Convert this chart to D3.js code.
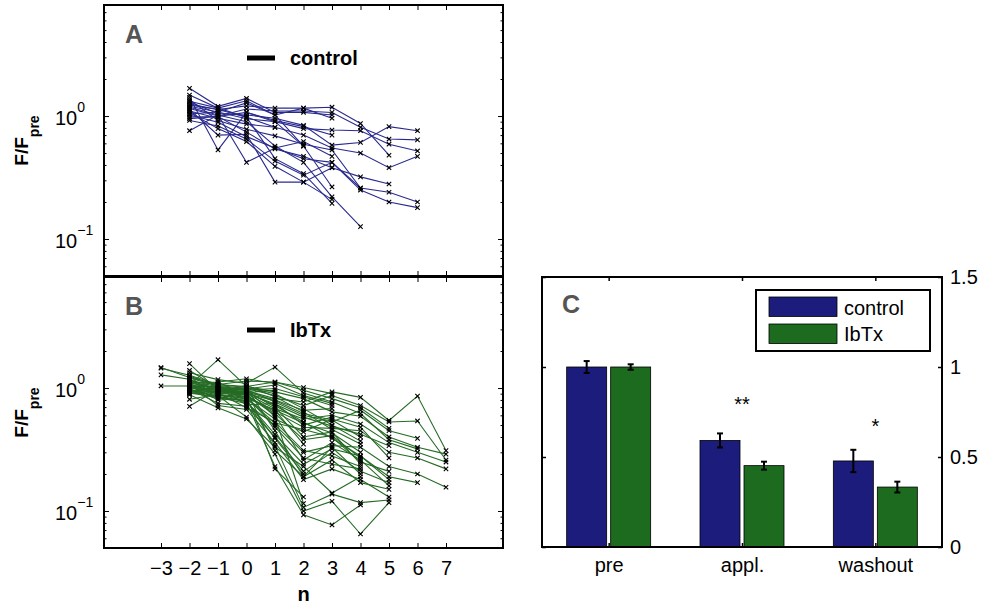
<!DOCTYPE html>
<html><head><meta charset="utf-8">
<script src="https://cdn.jsdelivr.net/npm/d3@7"></script>
<style>
body{margin:0;background:#fff}
svg{display:block}
text{font-family:"Liberation Sans",Arial,Helvetica,sans-serif}
</style>
</head><body>
<svg id="chart" width="984" height="607"></svg>
<script>
// ---------------- DATA ----------------
const nValues = [-3, -2, -1, 0, 1, 2, 3, 4, 5, 6, 7];

// F/Fpre traces (index aligned with nValues; null = no sample)
const controlTraces = [
  [null,1.30,1.05,1.02,0.96,0.84,0.58,0.61,0.82,0.76],
  [null,1.15,1.00,1.14,1.10,1.10,1.07,0.81,0.65,0.64],
  [null,1.20,1.08,0.95,0.90,0.79,0.77,0.76,0.59,0.52],
  [null,1.10,0.96,0.86,0.81,0.70,0.55,0.50,0.38,0.47],
  [null,1.36,0.92,0.78,0.69,0.59,0.53,0.26,0.24,0.20],
  [null,1.02,0.89,0.68,0.55,0.45,0.42,0.25,0.20,0.18],
  [null,1.25,1.13,1.21,1.16,1.16,1.18,0.87,0.48],
  [null,0.98,0.99,0.74,0.54,0.47,0.38,0.32,0.28],
  [null,1.18,1.02,0.90,0.57,0.42,0.22,0.126],
  [null,0.92,0.83,0.65,0.43,0.33,0.42,0.26],
  [null,1.68,1.20,1.39,1.07,1.07,1.02],
  [null,1.48,1.16,1.33,1.02,1.16,0.96],
  [null,1.42,0.53,1.07,0.92,0.82,0.70],
  [null,0.76,1.02,0.42,0.55,0.62,0.47],
  [null,1.07,0.79,0.62,0.39,0.29,0.21],
  [null,1.13,0.70,0.71,0.29,0.29,0.38],
  [null,1.04,1.08,1.28,1.02,0.57,0.265],
  [null,1.23,1.13,0.98,0.45,0.34,0.195],
  [null,0.95,0.99,1.07,0.90,0.57],
  [null,1.32,1.16,0.98,0.81]
];

const ibtxTraces = [
  [null,1.05,1.02,0.95,0.82,0.77,0.93,0.84,0.545,0.86,0.31],
  [null,1.11,0.97,0.99,0.87,0.72,0.87,0.72,0.53,0.54,0.26],
  [1.47,1.22,1.07,1.03,0.93,0.82,0.64,0.59,0.40,0.33,0.29],
  [null,0.96,0.93,0.90,0.68,0.56,0.60,0.51,0.36,0.30,0.25],
  [null,1.01,1.12,0.86,0.64,0.48,0.47,0.45,0.30,0.27,0.22],
  [null,0.91,0.84,0.75,0.50,0.30,0.34,0.33,0.23,0.20,0.156],
  [null,1.16,1.02,0.97,0.77,0.60,0.53,0.66,0.45,0.39],
  [null,1.33,1.17,1.09,1.48,0.91,0.77,0.62,0.38,0.32],
  [null,0.81,0.89,0.78,0.42,0.24,0.32,0.28,0.19,0.17],
  [1.45,1.27,1.07,1.14,1.12,0.96,0.82,0.69,0.47],
  [null,1.05,0.80,0.82,0.56,0.44,0.56,0.48,0.27],
  [null,1.39,1.00,0.92,0.72,0.53,0.39,0.28,0.18],
  [null,0.99,0.75,0.71,0.40,0.21,0.30,0.21,0.17],
  [null,1.58,0.95,0.88,0.60,0.26,0.36,0.26,0.16],
  [null,1.08,0.72,0.67,0.36,0.18,0.22,0.18,0.13],
  [null,0.93,1.02,0.80,0.34,0.107,0.137,0.117,0.123],
  [null,1.03,0.87,0.58,0.29,0.10,0.12,0.065,0.117],
  [null,1.13,1.07,1.01,0.90,0.68,0.50,0.37],
  [1.28,1.18,0.93,1.05,0.85,0.64,0.46,0.35],
  [null,0.71,0.98,0.88,0.62,0.38,0.41,0.27],
  [null,1.09,0.90,0.94,0.70,0.40,0.44,0.24],
  [null,1.00,0.91,0.69,0.53,0.31,0.28,0.23],
  [null,1.14,0.99,1.00,0.45,0.19,0.33,0.20],
  [null,0.88,0.69,0.56,0.33,0.23,0.14,0.19],
  [null,0.97,0.86,0.77,0.23,0.093,0.077,0.112],
  [null,1.05,1.70,1.03,1.12,1.01,0.90],
  [null,1.11,1.12,1.19,1.09,0.87,0.75],
  [null,1.02,0.97,0.96,0.99,0.85,0.72],
  [null,0.95,0.82,0.93,0.80,0.66,0.68],
  [1.04,1.04,1.01,0.73,0.75,0.50,0.58],
  [null,1.07,0.89,0.84,0.66,0.35],
  [null,0.98,0.84,0.79,0.39,0.20],
  [null,0.92,0.94,0.87,0.22,0.13],
  [null,1.20,1.05,0.99,0.58,0.115],
  [null,1.00,0.96,0.92,0.96],
  [null,1.06,0.93,0.98,1.06],
  [null,1.10,1.00,0.91,0.74,0.58,0.49,0.42,0.34],
  [null,0.94,1.03,0.83,0.66,0.52,0.43,0.30],
  [null,1.16,0.88,0.82,0.52,0.46,0.40,0.25,0.21],
  [null,1.01,0.98,0.90,0.79,0.62,0.55,0.40],
  [null,1.25,1.04,0.96,0.31,0.19,0.26,0.17,0.15],
  [null,0.90,0.92,0.85,0.48,0.27,0.24,0.22]
];

const logMajorTicks = [0.1, 1];
const logTickExponents = ["\u22121", "0"];
const logMinorTicks = [0.06,0.07,0.08,0.09,0.2,0.3,0.4,0.5,0.6,0.7,0.8,0.9,2,3,4,5,6,7,8];

// Panel C
const categories = ["pre", "appl.", "washout"];
const seriesNames = ["control", "IbTx"];
const controlMeans = [1.0, 0.592, 0.478];
const controlErrors = [0.033, 0.039, 0.062];
const ibtxMeans = [1.0, 0.452, 0.333];
const ibtxErrors = [0.015, 0.022, 0.030];
const barTicks = [0, 0.5, 1, 1.5];
const sigLabels = ["", "**", "*"];
const sigLevels = [null, 0.82, 0.70];

// ---------------- STYLE ----------------
const blueLine = "#2a2a8e", greenLine = "#256b25";
const blueBar = "#1c1c7c", greenBar = "#1c6b1f";
const panelGray = "#555555";

const svg = d3.select("#chart");
const xN = d3.scaleLinear([-5, 9], [104, 503]);

function linePanel(top, bottom, traces, color, letter, legendText, showXLabels) {
  const g = svg.append("g");
  const y = d3.scaleLog([0.05, 8], [bottom, top]);
  const line = d3.line()
    .defined(d => d != null)
    .x((d, i) => xN(nValues[i]))
    .y(d => y(d));

  g.append("g").selectAll("path").data(traces).join("path")
    .attr("d", t => line(t))
    .attr("fill", "none").attr("stroke", color).attr("stroke-width", 1.1);

  const pts = [];
  traces.forEach(t => t.forEach((v, i) => { if (v != null) pts.push([nValues[i], v]); }));
  g.append("g").selectAll("path").data(pts).join("path")
    .attr("transform", d => `translate(${xN(d[0])},${y(d[1])})`)
    .attr("d", "M-2.2,-2.2L2.2,2.2M-2.2,2.2L2.2,-2.2")
    .attr("stroke", "#000").attr("stroke-width", 1.1);

  const xTicks = nValues;
  const axB = g.append("g").attr("transform", `translate(0,${bottom})`)
    .call(d3.axisBottom(xN).tickValues(xTicks).tickSize(-5).tickFormat(""));
  const axT = g.append("g").attr("transform", `translate(0,${top})`)
    .call(d3.axisTop(xN).tickValues(xTicks).tickSize(-5).tickFormat(""));
  const axL = g.append("g").attr("transform", `translate(104,0)`)
    .call(d3.axisLeft(y).tickValues(logMajorTicks).tickSize(-5).tickFormat(""));
  const axR = g.append("g").attr("transform", `translate(503,0)`)
    .call(d3.axisRight(y).tickValues(logMajorTicks).tickSize(-5).tickFormat(""));
  const axLm = g.append("g").attr("transform", `translate(104,0)`)
    .call(d3.axisLeft(y).tickValues(logMinorTicks).tickSize(-2.5).tickFormat(""));
  const axRm = g.append("g").attr("transform", `translate(503,0)`)
    .call(d3.axisRight(y).tickValues(logMinorTicks).tickSize(-2.5).tickFormat(""));
  [axB, axT, axL, axR, axLm, axRm].forEach(a => {
    a.select(".domain").remove();
    a.selectAll("line").attr("stroke", "#000").attr("stroke-width", 1);
  });

  g.append("rect").attr("x", 104).attr("y", top).attr("width", 399).attr("height", bottom - top)
    .attr("fill", "none").attr("stroke", "#000").attr("stroke-width", 2);

  logMajorTicks.forEach((v, i) => {
    const t = g.append("text").attr("x", 55).attr("y", y(v) + 9)
      .attr("font-size", 20).attr("fill", "#000");
    t.append("tspan").text("10");
    t.append("tspan").attr("font-size", 14).attr("dy", -13).text(logTickExponents[i]);
  });

  const cy = (top + bottom) / 2;
  const yl = g.append("text").attr("transform", `translate(28,${cy}) rotate(-90)`)
    .attr("text-anchor", "middle").attr("font-weight", "bold").attr("font-size", 19);
  yl.append("tspan").text("F/F");
  yl.append("tspan").attr("font-size", 14).attr("dy", 11).text("pre");

  g.append("text").attr("x", 125).attr("y", top + 38).attr("font-size", 25)
    .attr("font-weight", "bold").attr("fill", panelGray).text(letter);

  g.append("line").attr("x1", 247).attr("x2", 275).attr("y1", top + 53).attr("y2", top + 53)
    .attr("stroke", "#000").attr("stroke-width", 5);
  g.append("text").attr("x", 290).attr("y", top + 60).attr("font-size", 20)
    .attr("font-weight", "bold").text(legendText);

  if (showXLabels) {
    const axLab = g.append("g").attr("transform", `translate(0,${bottom})`)
      .call(d3.axisBottom(xN).tickValues(xTicks).tickSize(0).tickPadding(13)
        .tickFormat(d => d < 0 ? "\u2212" + Math.abs(d) : String(d)));
    axLab.select(".domain").remove();
    axLab.selectAll("text").attr("font-size", 20).attr("fill", "#000")
      .attr("font-family", '"Liberation Sans",Arial,sans-serif');
    g.append("text").attr("x", 303.5).attr("y", 601).attr("text-anchor", "middle")
      .attr("font-size", 20).attr("font-weight", "bold").text("n");
  }
}

linePanel(5, 276, controlTraces, blueLine, "A", "control", false);
linePanel(277, 548, ibtxTraces, greenLine, "B", "IbTx", true);

// ---------------- PANEL C ----------------
const cL = 542, cR = 942, cT = 277, cB = 547;
const xC = d3.scaleLinear([0.5, 3.5], [cL, cR]);
const yC = d3.scaleLinear([0, 1.5], [cB, cT]);
const gC = svg.append("g");
const barW = 0.3, barOff = 0.165;
const series = [
  {name: seriesNames[0], means: controlMeans, errs: controlErrors, color: blueBar, off: -barOff},
  {name: seriesNames[1], means: ibtxMeans, errs: ibtxErrors, color: greenBar, off: barOff}
];
series.forEach(s => {
  const gs = gC.append("g");
  gs.selectAll("rect").data(s.means).join("rect")
    .attr("x", (d, i) => xC(i + 1 + s.off - barW / 2))
    .attr("width", xC(barW) - xC(0))
    .attr("y", d => yC(d))
    .attr("height", d => yC(0) - yC(d))
    .attr("fill", s.color).attr("stroke", "#000").attr("stroke-width", 0.8);
  s.means.forEach((m, i) => {
    const cx = xC(i + 1 + s.off);
    const e = s.errs[i];
    gs.append("line").attr("x1", cx).attr("x2", cx).attr("y1", yC(m - e)).attr("y2", yC(m + e))
      .attr("stroke", "#000").attr("stroke-width", 2);
    [m - e, m + e].forEach(v => gs.append("line").attr("x1", cx - 3).attr("x2", cx + 3)
      .attr("y1", yC(v)).attr("y2", yC(v)).attr("stroke", "#000").attr("stroke-width", 2));
  });
});

const catIdx = [1, 2, 3];
const cAxes = [
  gC.append("g").attr("transform", `translate(0,${cB})`).call(d3.axisBottom(xC).tickValues(catIdx).tickSize(-4).tickFormat("")),
  gC.append("g").attr("transform", `translate(0,${cT})`).call(d3.axisTop(xC).tickValues(catIdx).tickSize(-4).tickFormat("")),
  gC.append("g").attr("transform", `translate(${cL},0)`).call(d3.axisLeft(yC).tickValues(barTicks).tickSize(-4).tickFormat("")),
  gC.append("g").attr("transform", `translate(${cR},0)`).call(d3.axisRight(yC).tickValues(barTicks).tickSize(-4).tickFormat(""))
];
cAxes.forEach(a => { a.select(".domain").remove(); a.selectAll("line").attr("stroke", "#000").attr("stroke-width", 1.5); });

gC.append("rect").attr("x", cL).attr("y", cT).attr("width", cR - cL).attr("height", cB - cT)
  .attr("fill", "none").attr("stroke", "#000").attr("stroke-width", 2);

const rLab = gC.append("g").attr("transform", `translate(${cR},0)`)
  .call(d3.axisRight(yC).tickValues(barTicks).tickSize(0).tickPadding(8).tickFormat(d3.format("")));
rLab.select(".domain").remove();
rLab.selectAll("text").attr("font-size", 20).attr("fill", "#000")
  .attr("font-family", '"Liberation Sans",Arial,sans-serif');

const cLab = gC.append("g").attr("transform", `translate(0,${cB})`)
  .call(d3.axisBottom(xC).tickValues(catIdx).tickSize(0).tickPadding(11).tickFormat(d => categories[d - 1]));
cLab.select(".domain").remove();
cLab.selectAll("text").attr("font-size", 20).attr("fill", "#000")
  .attr("font-family", '"Liberation Sans",Arial,sans-serif');

sigLabels.forEach((s, i) => {
  if (!s) return;
  gC.append("text").attr("x", xC(i + 1)).attr("y", yC(sigLevels[i]) + 12)
    .attr("text-anchor", "middle").attr("font-size", 20).text(s);
});

gC.append("text").attr("x", 562).attr("y", 313).attr("font-size", 25)
  .attr("font-weight", "bold").attr("fill", panelGray).text("C");

gC.append("rect").attr("x", 756).attr("y", 290).attr("width", 174).attr("height", 61)
  .attr("fill", "#fff").attr("stroke", "#000").attr("stroke-width", 2);
series.forEach((s, i) => {
  gC.append("rect").attr("x", 769).attr("y", 297 + i * 27).attr("width", 68).attr("height", 19.5)
    .attr("fill", s.color).attr("stroke", "#000").attr("stroke-width", 0.8);
  gC.append("text").attr("x", 844).attr("y", 315 + i * 26).attr("font-size", 20).text(s.name);
});
</script>
</body></html>
